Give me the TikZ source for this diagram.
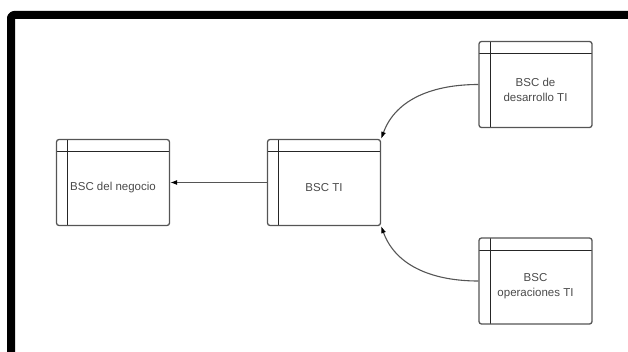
\documentclass[tikz,border=0pt]{standalone}
\usepackage{fontspec}
\setmainfont{Liberation Sans}
\usetikzlibrary{arrows.meta}
\definecolor{linea}{HTML}{555555}
\definecolor{letra}{HTML}{4A4A4A}
\tikzset{
  bsc/.style={draw=linea, line width=1.3pt, rounded corners=2.5pt,
    minimum width=113pt, minimum height=86pt, inner sep=0pt,
    path picture={
      \draw[line width=0.9pt, black!85] ([yshift=-12pt]path picture bounding box.north west)
        -- ([yshift=-12pt]path picture bounding box.north east);
      \draw[line width=0.9pt, black!85] ([xshift=11pt]path picture bounding box.north west)
        -- ([xshift=11pt]path picture bounding box.south west);
    }},
  bsctext/.style={text=letra, font=\fontsize{11.5}{15}\selectfont, align=center},
  flecha/.style={draw=linea, line width=1.1pt, -{Latex[length=7pt,width=5pt,color=black]}}
}
\begin{document}
\begin{tikzpicture}[x=1pt, y=1pt, line join=round]
  \useasboundingbox (0,0) rectangle (628,351);
  % el marco negro, arriba y a la izquierda
  \draw[line width=8pt, rounded corners=3pt] (11,-10) -- (11,336) -- (640,336);
  % las cajas
  \node[bsc] (negocio) at (113,168.5) {};
  \node[bsctext] (negocio-t) at ([yshift=-5pt]negocio.center) {BSC del negocio};
  \node[bsc] (ti) at (324,168.5) {};
  \node[bsctext] (ti-t) at ([yshift=-5pt]ti.center) {BSC TI};
  \node[bsc] (desarrollo) at (535.5,266.5) {};
  \node[bsctext] (desarrollo-t) at ([yshift=-5pt]desarrollo.center) {BSC de\\desarrollo TI};
  \node[bsc] (operaciones) at (535.5,70) {};
  \node[bsctext] (operaciones-t) at ([yshift=-5pt]operaciones.center) {BSC\\operaciones TI};
  % las flechas
  \draw[flecha] (ti) -- (negocio);
  \draw[flecha] (desarrollo.west) to[out=180, in=70] (ti.north east);
  \draw[flecha] (operaciones.west) to[out=180, in=-70] (ti.south east);
\end{tikzpicture}
\end{document}
